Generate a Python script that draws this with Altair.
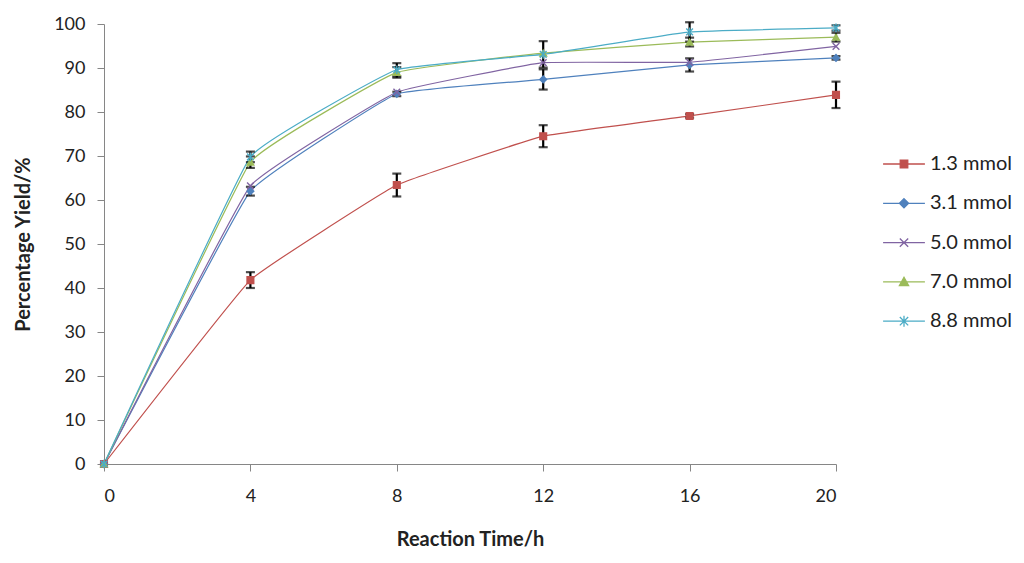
import altair as alt
import pandas as pd

times = [0, 4, 8, 12, 16, 20]
series_names = ["1.3 mmol", "3.1 mmol", "5.0 mmol", "7.0 mmol", "8.8 mmol"]
y_13 = [0, 41.8, 63.4, 74.5, 79.1, 83.9]
y_31 = [0, 62.0, 84.1, 87.4, 90.7, 92.3]
y_50 = [0, 63.2, 84.5, 91.2, 91.3, 94.9]
y_70 = [0, 68.6, 89.0, 93.4, 95.9, 97.0]
y_88 = [0, 69.8, 89.6, 93.1, 98.2, 99.1]
e_13 = [0, 1.8, 2.6, 2.5, 0.4, 3.0]
e_31 = [0, 1.0, 0.5, 2.3, 1.5, 0.4]
e_50 = [0, 0, 0, 0, 0, 0]
e_70 = [0, 1.3, 1.2, 0, 1.0, 1.0]
e_88 = [0, 1.2, 1.5, 3.0, 2.2, 0.6]

colors = ["#C0504D", "#4F81BD", "#8064A2", "#9BBB59", "#4BACC6"]
shapes = [
    "square",
    "diamond",
    "M-1,-1L1,1M-1,1L1,-1",
    "triangle-up",
    "M-1,-1L1,1M-1,1L1,-1M0,-1.3L0,1.3",
]
legend_shapes = [
    "M-5,0H5M-0.9,-0.9H0.9V0.9H-0.9Z",
    "M-5,0H5M0,-1.1L1.1,0L0,1.1L-1.1,0Z",
    "M-5,0H5M-1,-1L1,1M-1,1L1,-1",
    "M-5,0H5M0,-1.1L1.1,0.9H-1.1Z",
    "M-5,0H5M-1,-1L1,1M-1,1L1,-1M0,-1.3V1.3",
]

rows = []
for name, ys, es in zip(series_names,
                        [y_13, y_31, y_50, y_70, y_88],
                        [e_13, e_31, e_50, e_70, e_88]):
    for t, v, e in zip(times, ys, es):
        rows.append({"time": t, "yield": v, "err": e, "series": name,
                     "lo": v - e, "hi": v + e})
df = pd.DataFrame(rows)

FONT = "Lato"
XT = "Reaction Time/h"
YT = "Percentage Yield/%"
x_axis = alt.Axis(values=times, title=XT, grid=False,
                  tickSize=7, labelPadding=16, titlePadding=24)
y_axis = alt.Axis(values=list(range(0, 101, 10)), title=YT,
                  grid=False, tickSize=7, labelPadding=12, titlePadding=20)
x_scale = alt.Scale(domain=[0, 20], nice=False)
y_scale = alt.Scale(domain=[0, 100], nice=False)
color_scale = alt.Scale(domain=series_names, range=colors)

lines = alt.Chart(df).mark_line(strokeWidth=1.2, interpolate="cardinal", tension=0.75).encode(
    x=alt.X("time:Q", scale=x_scale, axis=x_axis, title=XT),
    y=alt.Y("yield:Q", scale=y_scale, axis=y_axis, title=YT),
    color=alt.Color("series:N", scale=color_scale, legend=None),
)

errs = alt.Chart(df).transform_filter("datum.err > 0").mark_errorbar(
    ticks=alt.MarkConfig(size=9, color="black", strokeWidth=2.2),
    color="black", thickness=2.2).encode(
    x=alt.X("time:Q", title=XT),
    y=alt.Y("lo:Q", title=YT),
    y2="hi:Q",
)

points = alt.Chart(df).mark_point(filled=True, size=45, strokeWidth=1.4, opacity=1).encode(
    x=alt.X("time:Q", title=XT),
    y=alt.Y("yield:Q", title=YT),
    color=alt.Color("series:N", scale=color_scale, legend=None),
    stroke=alt.Stroke("series:N", scale=color_scale, legend=None),
    shape=alt.Shape("series:N", scale=alt.Scale(domain=series_names, range=shapes),
                    legend=None),
)

legend = alt.Legend(orient="none", legendX=790, legendY=130,
                    labelFontSize=20, rowPadding=19.3,
                    symbolSize=70, labelOffset=16, symbolOpacity=1,
                    symbolStrokeWidth=1.3, title=None)

legend_layer = alt.Chart(df).transform_filter("false").mark_point(
    filled=True, size=70, strokeWidth=1.3, opacity=1).encode(
    x=alt.X("time:Q", title=XT),
    y=alt.Y("yield:Q", title=YT),
    color=alt.Color("series:N", scale=alt.Scale(domain=series_names, range=colors),
                    title=None, legend=legend),
    stroke=alt.Stroke("series:N", scale=alt.Scale(domain=series_names, range=colors),
                      title=None, legend=legend),
    shape=alt.Shape("series:N", scale=alt.Scale(domain=series_names, range=legend_shapes),
                    title=None, legend=legend),
)

chart = alt.layer(lines, errs, points, legend_layer).resolve_scale(
    color="independent", stroke="independent", shape="independent"
).properties(
    width=732, height=440,
    autosize=alt.AutoSizeParams(type="none"),
    padding={"left": 96, "top": 16, "right": 180, "bottom": 90},
).configure_view(stroke=None).configure_axis(
    domainColor="#868686", tickColor="#868686", labelFont=FONT, titleFont=FONT,
    labelFontSize=18, labelColor="#222222", titleFontSize=20, titleFontWeight="bold",
    titleColor="#222222",
).configure_legend(labelFont=FONT, labelColor="#222222")

chart.save("out.html", embed_options={"renderer": "svg", "actions": False})
